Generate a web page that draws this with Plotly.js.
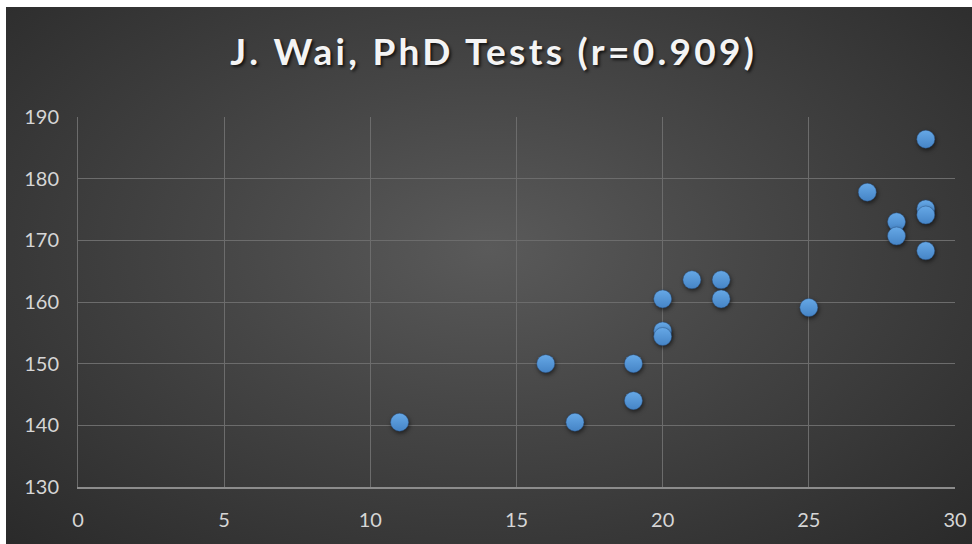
<!DOCTYPE html>
<html>
<head>
<meta charset="utf-8">
<script src="https://cdn.plot.ly/plotly-3.0.1.min.js"></script>
<style>
html,body{margin:0;padding:0;background:#ffffff;width:972px;height:544px;overflow:hidden;}
#chart{position:absolute;left:6px;top:7px;width:966px;height:537px;
background:radial-gradient(ellipse at 50% 45%, #5a5a5a 0%, #464646 40%, #2a2a2a 100%);}
#chart .gtitle{letter-spacing:3.3px;}
#chart .scatterlayer path.point{filter:drop-shadow(1px 2px 2px rgba(0,0,0,0.55));}
</style>
</head>
<body>
<div id="chart"></div>
<script>
const titleText = "J. Wai, PhD Tests (r=0.909)";
const xValues = [11, 16, 17, 19, 19, 20, 20, 20, 21, 22, 22, 25, 27, 28, 28, 29, 29, 29, 29];
const yValues = [140.5, 150, 140.5, 150, 144, 160.5, 155.3, 154.4, 163.6, 163.6, 160.5, 159.1, 177.8, 173, 170.7, 186.4, 175.1, 174.1, 168.3];
const xTicks = [0, 5, 10, 15, 20, 25, 30];
const yTicks = [130, 140, 150, 160, 170, 180, 190];

const trace = {
  x: xValues, y: yValues, type: 'scatter', mode: 'markers',
  marker: {size: 18, color: '#66a8e6',
    gradient: {type: 'vertical', color: '#4584c6'},
    line: {color: 'rgba(40,80,130,0.45)', width: 1}},
  hoverinfo: 'x+y'
};

const layout = {
  width: 966, height: 537,
  paper_bgcolor: 'rgba(0,0,0,0)', plot_bgcolor: 'rgba(0,0,0,0)',
  margin: {l: 72, r: 17, t: 110, b: 57},
  showlegend: false,
  font: {family: 'Lato, "Open Sans", sans-serif', color: '#d6d6d6', size: 20},
  title: {text: titleText, x: 0.505, xanchor: 'center', y: 0.916, yanchor: 'middle',
    font: {family: 'Lato, "Open Sans", sans-serif', size: 37, color: '#f4f4f4', weight: 'bold',
      shadow: '2px 2px 3px rgba(0,0,0,0.7)'}},
  xaxis: {range: [0, 30], tickvals: xTicks, ticktext: xTicks.map(String),
    showgrid: true, gridcolor: '#6c6c6c', gridwidth: 1,
    showline: true, linecolor: '#8c8c8c', linewidth: 2,
    zeroline: false, ticks: '', ticklabelstandoff: 14, fixedrange: true},
  yaxis: {range: [130, 190], tickvals: yTicks, ticktext: yTicks.map(String),
    showgrid: true, gridcolor: '#6c6c6c', gridwidth: 1,
    showline: true, linecolor: '#6c6c6c', linewidth: 1,
    zeroline: false, ticks: '', ticklabelstandoff: 14, fixedrange: true}
};

Plotly.newPlot('chart', [trace], layout, {displayModeBar: false, staticPlot: true});
</script>
</body>
</html>
